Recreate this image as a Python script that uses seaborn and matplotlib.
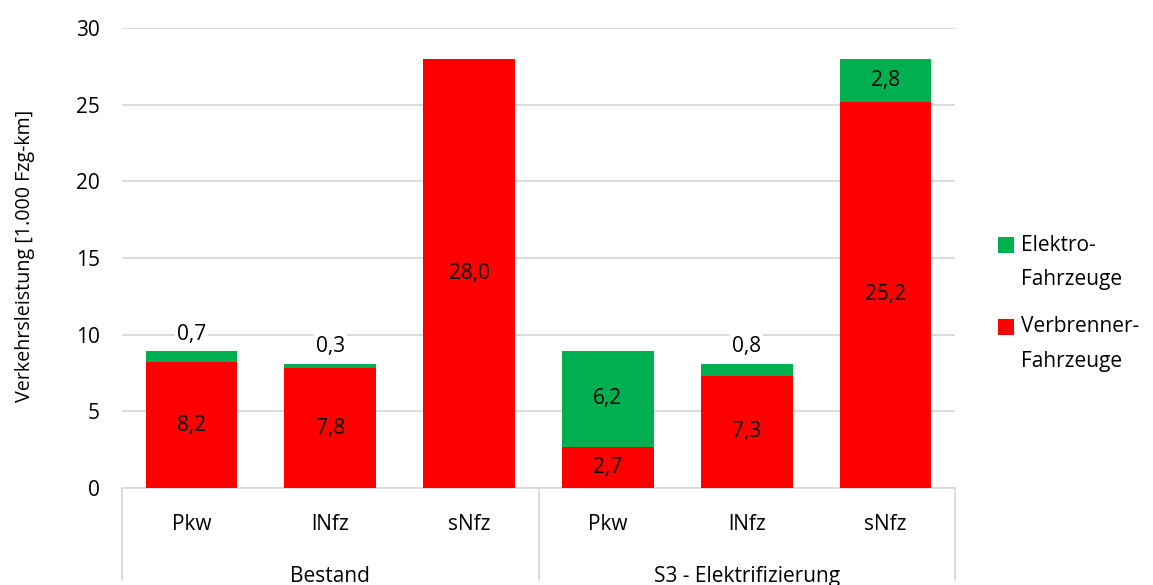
import pandas as pd
import seaborn as sns
import matplotlib.pyplot as plt
from matplotlib.patches import Rectangle

# data
groups = ["Bestand", "S3 - Elektrifizierung"]
vehicles = ["Pkw", "lNfz", "sNfz"]
verbrenner = [8.2, 7.8, 28.0, 2.7, 7.3, 25.2]
elektro = [0.7, 0.3, 0.0, 6.2, 0.8, 2.8]
legend_labels = [("Elektro-", "Fahrzeuge"), ("Verbrenner-", "Fahrzeuge")]

RED = "#ff0000"
GREEN = "#00b050"
GRID = "#d9d9d9"
FS = 15

df = pd.DataFrame({
    "key": [f"{g}|{v}" for g in groups for v in vehicles],
    "vehicle": vehicles * len(groups),
    "Verbrenner": verbrenner,
    "Elektro": elektro,
})
df["total"] = df["Verbrenner"] + df["Elektro"]

sns.set_theme(style="white")
plt.rcParams["font.family"] = ["Open Sans", "DejaVu Sans"]
plt.rcParams["text.color"] = "black"
plt.rcParams["axes.labelcolor"] = "black"

fig = plt.figure(figsize=(11.53, 5.85), dpi=100)
ax = fig.add_axes([0.1058, 0.166, 0.7225, 0.786])

order = list(df["key"])
sns.barplot(data=df, x="key", y="total", order=order, color=GREEN,
            saturation=1, width=0.66, linewidth=0, ax=ax, zorder=2)
sns.barplot(data=df, x="key", y="Verbrenner", order=order, color=RED,
            saturation=1, width=0.66, linewidth=0, ax=ax, zorder=3)

ax.set_ylim(0, 30)
ax.set_xlim(-0.5, len(order) - 0.5)
ax.set_yticks(range(0, 31, 5))
ax.yaxis.grid(True, color=GRID, linewidth=1.3, zorder=0)
ax.set_axisbelow(True)
for s in ["top", "right", "left"]:
    ax.spines[s].set_visible(False)
ax.spines["bottom"].set_color(GRID)
ax.spines["bottom"].set_linewidth(1.3)
ax.tick_params(axis="y", length=0, labelsize=FS, pad=16, labelcolor="black")
ax.set_xticks([])
ax.set_xlabel("")
ax.set_ylabel("Verkehrsleistung [1.000 Fzg-km]", fontsize=14.2)
ax.yaxis.set_label_coords(-0.105, 0.505)

# value labels
for i, row in df.iterrows():
    ax.text(i, row["Verbrenner"] / 2, f"{row['Verbrenner']:.1f}".replace(".", ","),
            ha="center", va="center", fontsize=FS, zorder=5)
    e = row["Elektro"]
    if e <= 0:
        continue
    txt = f"{e:.1f}".replace(".", ",")
    if e >= 2:
        ax.text(i, row["Verbrenner"] + e / 2, txt, ha="center", va="center",
                fontsize=FS, zorder=5)
    else:
        ax.text(i, row["total"] + 0.45, txt, ha="center", va="bottom", fontsize=FS,
                zorder=5, bbox=dict(facecolor="white", edgecolor="none", pad=1.5))

# two-level category axis
trans = ax.get_xaxis_transform()
for xb in [-0.5, 2.5, 5.5]:
    ax.plot([xb, xb], [0, -0.2], transform=trans, color=GRID, lw=1.3,
            clip_on=False, zorder=1)
for i, v in enumerate(df["vehicle"]):
    ax.text(i, -0.08, v, transform=trans, ha="center", va="center", fontsize=FS)
for gi, g in enumerate(groups):
    ax.text(gi * 3 + 1, -0.192, g, transform=trans, ha="center", va="center",
            fontsize=FS)

# legend drawn as figure patches and texts
W, H = 1153, 585
for (l1, l2), col, yc in zip(legend_labels, [GREEN, RED], [245, 327]):
    fig.patches.append(Rectangle((998 / W, 1 - (yc + 8) / H), 16 / W, 16 / H,
                                 facecolor=col, edgecolor="none",
                                 transform=fig.transFigure, figure=fig))
    fig.text(1021 / W, 1 - yc / H, l1, ha="left", va="center", fontsize=FS)
    fig.text(1021 / W, 1 - (yc + 34) / H, l2, ha="left", va="center", fontsize=FS)

fig.savefig("out.png", dpi=100)
